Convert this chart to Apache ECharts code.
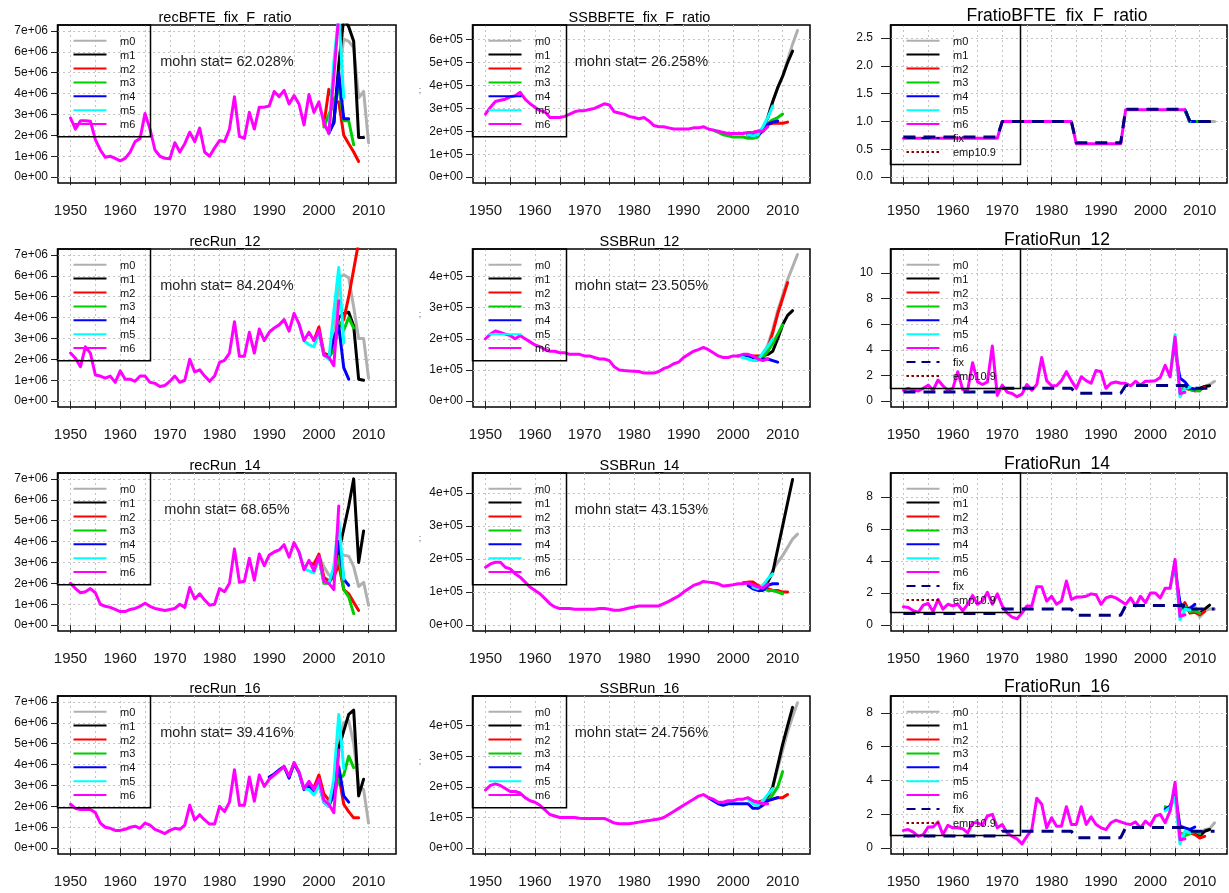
<!DOCTYPE html>
<html><head><meta charset="utf-8">
<script src="https://cdn.jsdelivr.net/npm/echarts@6/dist/echarts.min.js"></script>
<style>html,body{margin:0;padding:0;background:#fff}#c{width:1229px;height:893px}</style>
</head><body><div id="c"></div>
<script>
// ---------------- DATA ----------------
const xTicks  = [1950,1955,1960,1965,1970,1975,1980,1985,1990,1995,2000,2005,2010];
const xLabels = [1950,1960,1970,1980,1990,2000,2010];
const peelNames = ['m0','m1','m2','m3','m4','m5','m6'];

// recruitment values are in units of 1e6, SSB in units of 1e5
// --- recBFTE_fix_F_ratio (m6 from 1950)
const rec1_m6 = [2.83,2.3,2.7,2.7,2.68, 1.8,1.3,0.95,1.0,0.9, 0.78,0.9,1.2,1.7,1.85, 3.05,2.3,1.3,1.0,0.9, 0.88,1.65,1.2,1.6,2.15, 1.7,2.35,1.2,1.0,1.4, 1.75,1.7,2.3,3.85,1.95, 1.85,3.1,2.3,3.35,3.35, 3.4,4.1,3.85,4.15,3.5, 3.9,3.5,2.5,3.95,3.1, 3.6,2.6,2.1,4.8,7.8];
const rec1_start = [2002,2002,2001,2001,2002,2002];
const rec1_m0 = [2.2,2.6,5.0,6.6,6.5,6.2,3.8,4.1,1.65];
const rec1_m1 = [2.2,2.6,5.4,7.6,7.2,6.5,1.9,1.9];
const rec1_m2 = [2.5,4.2,3.6,3.6,2.0,1.6,1.2,0.75];
const rec1_m3 = [2.4,3.0,3.5,4.3,2.7,2.7,1.55];
const rec1_m4 = [2.1,2.6,5.0,2.8,2.8];
const rec1_m5 = [2.1,5.5,7.8,3.8];

// --- SSBBFTE_fix_F_ratio
const ssb1_m6 = [2.75,3.05,3.3,3.35,3.4, 3.5,3.55,3.7,3.4,3.2, 3.05,2.9,2.85,2.6,2.6, 2.6,2.65,2.75,2.85,2.9, 2.9,2.95,3.0,3.1,3.2, 3.15,2.85,2.8,2.75,2.65, 2.6,2.55,2.6,2.45,2.25, 2.2,2.2,2.15,2.1,2.1, 2.1,2.1,2.15,2.15,2.2, 2.1,2.05,2.0,1.95,1.9, 1.9,1.9,1.9,1.95,1.95, 2.0,2.0,2.2];
const ssb1_start = [2007,2003,2003,1996,2003,2003];
const ssb1_m0 = [2.6,3.3,3.9,4.4,5.1,5.8,6.4];
const ssb1_m1 = [1.85,1.8,1.8,2.1,2.6,3.3,3.9,4.4,5.0,5.5];
const ssb1_m2 = [1.95,1.95,2.0,2.1,2.3,2.35,2.35,2.35,2.4];
const ssb1_m3 = [2.05,1.95,1.85,1.8,1.75,1.75,1.75,1.7,1.7,1.75,2.1,2.35,2.5,2.6,2.75];
const ssb1_m4 = [1.85,1.8,1.85,2.0,2.3,2.4,2.45];
const ssb1_m5 = [1.85,1.8,1.85,2.2,2.6,3.1];

// --- FratioBFTE_fix_F_ratio
const f1_m6 = [0.7,0.7,0.7,0.7,0.7, 0.7,0.7,0.7,0.7,0.7, 0.7,0.7,0.7,0.7,0.7, 0.7,0.7,0.7,0.7,0.7, 1.0,1.0,1.0,1.0,1.0, 1.0,1.0,1.0,1.0,1.0, 1.0,1.0,1.0,1.0,1.0, 0.6,0.6,0.6,0.6,0.6, 0.6,0.6,0.6,0.6,0.6, 1.21,1.21,1.21,1.21,1.21, 1.21,1.21,1.21,1.21,1.21, 1.21,1.21,1.21];
const f1_start = [2007,2007,2007,2007,2007,2007];
const f1_m0 = [1.21,1.0,1.0,1.0,1.0,1.0,1.0];
const f1_m1 = [1.21,1.0,1.0,1.0,1.0,1.0];
const f1_m2 = [1.21,1.0,1.0,1.0,1.0];
const f1_m3 = [1.21,1.0,1.0,1.0];
const f1_m4 = [1.21,1.0,1.0];
const f1_m5 = [1.21,1.0];
// fixed F ratio (dashed navy), 1950-2013
const fixRatio = [0.72,0.72,0.72,0.72,0.72, 0.72,0.72,0.72,0.72,0.72, 0.72,0.72,0.72,0.72,0.72, 0.72,0.72,0.72,0.72,0.72, 1.0,1.0,1.0,1.0,1.0, 1.0,1.0,1.0,1.0,1.0, 1.0,1.0,1.0,1.0,1.0, 0.62,0.62,0.62,0.62,0.62, 0.62,0.62,0.62,0.62,0.62, 1.22,1.22,1.22,1.22,1.22, 1.22,1.22,1.22,1.22,1.22, 1.22,1.22,1.22, 1.0,1.0,1.0,1.0,1.0,1.0];

// --- recRun_12
const rec2_m6 = [2.3,2.05,1.65,2.6,2.3, 1.25,1.2,1.1,1.2,0.9, 1.45,1.05,1.05,0.95,1.2, 1.2,0.9,0.85,0.7,0.75, 0.95,1.2,0.9,1.0,2.0, 1.4,1.5,1.2,0.95,1.2, 1.85,1.95,2.3,3.8,2.15, 2.15,3.3,2.3,3.45,2.9, 3.3,3.5,3.65,3.9,3.35, 4.2,3.7,2.9,3.3,2.9, 3.4,2.2,2.1,1.7,4.8];
const rec2_start = [2002,2002,1999,2002,2002,1996];
const rec2_m0 = [2.2,2.8,5.9,6.05,5.9,4.5,3.0,3.0,1.1];
const rec2_m1 = [2.1,2.5,4.0,4.2,4.25,3.6,1.05,1.0];
const rec2_m2 = [2.9,3.55,2.3,2.2,2.5,3.6,3.9,5.0,6.3,7.6];
const rec2_m3 = [2.1,2.5,3.8,3.4,4.0,3.5];
const rec2_m4 = [2.1,3.0,3.6,1.6,1.05];
const rec2_m5 = [3.7,2.9,2.7,2.6,3.3,2.2,2.0,4.3,6.4,2.8];

// --- SSBRun_12
const ssb2_m6 = [2.0,2.15,2.25,2.2,2.15, 2.1,2.0,2.1,2.0,1.9, 1.8,1.75,1.65,1.6,1.6, 1.55,1.55,1.5,1.5,1.5, 1.45,1.45,1.4,1.35,1.35, 1.3,1.1,1.0,0.98,0.97, 0.96,0.95,0.9,0.9,0.9, 0.95,1.05,1.1,1.2,1.25, 1.4,1.5,1.6,1.65,1.72, 1.65,1.55,1.45,1.4,1.4, 1.45,1.45,1.5,1.5,1.45, 1.35,1.3,1.35];
const ssb2_start = [2005,2005,2004,2005,2001,2001];
const ssb2_m0 = [1.4,1.5,1.8,2.3,2.9,3.4,3.9,4.3,4.7];
const ssb2_m1 = [1.4,1.45,1.5,1.6,2.0,2.45,2.75,2.9];
const ssb2_m2 = [1.45,1.45,1.45,1.7,2.2,2.8,3.3,3.8];
const ssb2_m3 = [1.4,1.4,1.6,1.85,2.15,2.45];
const ssb2_m4 = [1.45,1.45,1.45,1.4,1.35,1.35,1.35,1.3,1.25];
const ssb2_m5 = [1.45,1.4,1.35,1.3,1.3,1.55,1.75,2.0];

// --- FratioRun_12
const f2_m6 = [0.85,1.0,0.85,0.8,1.0, 1.25,0.85,1.65,1.2,0.85, 1.0,2.3,0.9,0.85,3.0, 1.5,1.3,1.5,4.3,0.45, 1.25,0.7,0.6,0.35,0.55, 1.3,0.85,1.3,3.4,1.6, 1.2,1.2,1.6,2.3,1.6, 1.0,1.9,1.6,1.4,2.4, 2.3,1.0,1.4,1.5,1.4, 1.4,1.2,1.55,1.25,1.55, 1.55,1.6,1.85,2.8,1.9, 5.0,0.6,0.7];
const f2_start = [2009,2008,2007,2006,2005,2004];
const f2_m0 = [0.9,1.0,1.15,1.3,1.55];
const f2_m1 = [1.0,0.9,1.0,1.15,1.2];
const f2_m2 = [1.0,0.9,0.8,0.85,1.1];
const f2_m3 = [0.8,1.2,0.9,0.85,0.8];
const f2_m4 = [4.0,1.8,1.5,1.0,0.95];
const f2_m5 = [1.9,5.2,0.35,1.0,1.1];

// --- recRun_14
const rec3_m6 = [2.0,1.75,1.55,1.6,1.75, 1.55,1.0,0.9,0.85,0.75, 0.65,0.65,0.75,0.8,0.9, 1.05,0.9,0.8,0.75,0.7, 0.75,0.8,1.0,0.85,1.8, 1.25,1.5,1.2,0.95,1.0, 1.75,1.6,2.0,3.65,2.05, 2.1,3.2,2.15,3.4,2.85, 3.35,3.5,3.6,3.85,3.25, 3.95,3.5,2.65,3.1,2.6, 3.3,2.1,2.0,1.7,5.7];
const rec3_start = [1999,2002,1998,2000,2002,1996];
const rec3_m0 = [3.0,3.3,2.8,2.4,2.3,3.3,3.35,3.3,2.8,1.85,2.05,0.95];
const rec3_m1 = [2.1,2.5,3.5,4.6,5.7,7.0,3.0,4.5];
const rec3_m2 = [3.0,2.9,3.4,2.3,2.1,2.3,2.9,1.7,1.5,1.1,0.7];
const rec3_m3 = [3.2,2.0,2.0,2.5,3.3,1.7,1.35,0.55];
const rec3_m4 = [2.0,2.6,4.0,2.2,1.9];
const rec3_m5 = [3.5,2.7,2.6,2.5,3.2,2.1,2.0,2.8,5.0,2.2];

// --- SSBRun_14
const ssb3_m6 = [1.75,1.85,1.9,1.9,1.75, 1.7,1.55,1.45,1.3,1.15, 1.05,0.95,0.8,0.65,0.55, 0.5,0.5,0.5,0.48,0.48, 0.48,0.48,0.48,0.5,0.5, 0.48,0.45,0.45,0.48,0.52, 0.55,0.58,0.58,0.58,0.58, 0.58,0.65,0.72,0.8,0.88, 1.0,1.1,1.2,1.25,1.32, 1.3,1.28,1.25,1.18,1.2, 1.22,1.25,1.25,1.28,1.22, 1.15,1.12,1.25];
const ssb3_start = [2006,2005,2002,2004,2003,2004];
const ssb3_m0 = [1.2,1.35,1.65,1.9,2.1,2.35,2.6,2.75];
const ssb3_m1 = [1.15,1.15,1.3,1.6,2.3,3.0,3.7,4.4];
const ssb3_m2 = [1.28,1.3,1.3,1.2,1.15,1.1,1.05,1.05,1.0,1.0];
const ssb3_m3 = [1.2,1.15,1.1,1.05,1.05,1.0,0.95];
const ssb3_m4 = [1.2,1.1,1.05,1.05,1.2,1.25,1.25];
const ssb3_m5 = [1.15,1.1,1.2,1.4,1.55];

// --- FratioRun_14
const f3_m6 = [1.15,1.1,0.9,0.8,1.25, 1.35,0.85,1.6,1.0,1.3, 1.2,1.3,0.9,1.3,1.85, 1.3,1.5,2.05,1.3,1.95, 1.2,0.75,0.5,0.4,0.75, 1.2,1.2,2.4,2.4,1.5, 1.8,1.3,1.5,2.75,1.6, 1.75,1.75,1.8,1.95,1.9, 1.3,1.7,1.8,1.7,1.5, 1.3,1.7,1.2,1.8,1.4, 2.0,2.0,1.7,2.3,2.3, 4.1,0.55,0.65];
const f3_start = [2008,2008,2006,2006,2005,2004];
const f3_m0 = [1.1,1.2,0.5,0.9,1.0,1.0];
const f3_m1 = [1.0,0.85,0.7,1.0,1.25];
const f3_m2 = [1.0,1.4,0.75,0.8,0.65,0.85];
const f3_m3 = [0.9,1.2,0.85,0.9,0.75];
const f3_m4 = [3.5,1.4,1.0,1.05,1.3];
const f3_m5 = [2.3,4.0,0.35,1.0,0.95];

// --- recRun_16
const rec4_m6 = [2.1,1.9,1.85,1.85,1.85, 1.7,1.2,1.0,0.95,0.85, 0.85,0.9,1.0,1.05,0.95, 1.2,1.1,0.9,0.8,0.7, 0.85,0.95,0.9,1.1,2.05, 1.35,1.6,1.35,1.15,1.15, 2.0,1.75,2.2,3.75,2.05, 2.05,3.4,2.25,3.5,2.95, 3.3,3.5,3.7,3.9,3.45, 4.1,3.65,2.85,3.2,2.8, 3.3,2.3,2.1,1.7,4.7];
const rec4_start = [2002,2002,1998,2002,1990,1996];
const rec4_m0 = [2.2,2.8,5.2,6.0,6.1,5.0,3.0,2.8,1.2];
const rec4_m1 = [2.1,2.6,4.8,5.6,6.4,6.6,2.5,3.3];
const rec4_m2 = [3.1,2.9,3.5,2.6,2.3,2.7,3.5,2.1,1.75,1.45,1.45];
const rec4_m3 = [2.1,2.5,3.3,3.5,4.4,3.85];
const rec4_m4 = [3.4,3.55,3.75,3.9,3.35,4.05,3.6,2.8,3.0,2.7,3.1,2.2,2.0,2.6,3.9,2.5,2.2];
const rec4_m5 = [3.65,2.85,2.8,2.55,3.0,2.2,2.0,3.3,6.4,3.8];

// --- SSBRun_16
const ssb4_m6 = [1.9,2.05,2.1,2.05,1.95, 1.85,1.85,1.8,1.65,1.55, 1.5,1.4,1.25,1.1,1.05, 1.0,1.0,1.0,1.0,0.98, 0.97,0.97,0.97,0.97,0.97, 0.9,0.82,0.8,0.8,0.8, 0.82,0.85,0.88,0.9,0.93, 0.95,1.0,1.1,1.2,1.3, 1.4,1.5,1.6,1.7,1.75, 1.65,1.6,1.5,1.5,1.55, 1.55,1.6,1.6,1.65,1.55, 1.5,1.45,1.45];
const ssb4_start = [2006,2005,2004,2005,1995,2003];
const ssb4_m0 = [1.45,1.6,2.0,2.6,3.2,3.8,4.3,4.75];
const ssb4_m1 = [1.45,1.5,1.7,2.0,2.7,3.4,4.0,4.6];
const ssb4_m2 = [1.5,1.5,1.55,1.6,1.6,1.65,1.65,1.75];
const ssb4_m3 = [1.45,1.45,1.55,1.75,2.0,2.5];
const ssb4_m4 = [1.65,1.55,1.45,1.4,1.45,1.45,1.45,1.45,1.45,1.3,1.3,1.4,1.55,1.6,1.65];
const ssb4_m5 = [1.6,1.45,1.4,1.55,1.75,1.95];

// --- FratioRun_16
const f4_m6 = [1.05,1.1,0.95,0.7,0.8, 1.25,1.25,1.55,0.8,1.35, 1.2,1.2,1.15,0.9,1.5, 1.5,1.35,1.9,2.0,1.2, 1.4,0.9,0.7,0.55,0.25, 0.7,1.1,2.95,2.6,1.2, 1.8,1.3,1.3,2.45,1.4, 1.4,2.45,1.4,1.85,1.4, 1.2,1.1,1.5,1.65,1.55, 1.45,1.4,1.55,1.2,1.6, 1.35,1.9,2.0,1.5,2.2, 3.9,0.5,0.55];
const f4_start = [2008,2008,2006,2003,2003,2003];
const f4_m0 = [1.0,0.95,0.65,1.1,1.15,1.5];
const f4_m1 = [1.0,0.9,0.7,1.0,1.1];
const f4_m2 = [0.9,0.8,0.9,0.8,0.6,0.7];
const f4_m3 = [2.45,2.3,3.3,0.9,0.75,0.85,1.0,0.85];
const f4_m4 = [2.3,2.5,3.2,1.3,1.2,1.1,1.25];
const f4_m5 = [2.2,2.4,3.0,0.25,1.0,0.9];

// y-limits of each panel (as plotted, before 4% extension)
const ylimRec = [0, 7];
const ylimSSB = [[0,6.38],[0,4.69],[0,4.42],[0,4.78]];
const ylimF   = [[0,2.63],[0,11.42],[0,9.12],[0,8.65]];
const yTicksRec = [0,1,2,3,4,5,6,7];
const yTicksSSB = [[0,1,2,3,4,5,6],[0,1,2,3,4],[0,1,2,3,4],[0,1,2,3,4]];
const yTicksF   = [[0,0.5,1,1.5,2,2.5],[0,2,4,6,8,10],[0,2,4,6,8],[0,2,4,6,8]];

const titles = [
  ['recBFTE_fix_F_ratio','SSBBFTE_fix_F_ratio','FratioBFTE_fix_F_ratio'],
  ['recRun_12','SSBRun_12','FratioRun_12'],
  ['recRun_14','SSBRun_14','FratioRun_14'],
  ['recRun_16','SSBRun_16','FratioRun_16']
];
const mohnRec = ['mohn stat= 62.028%','mohn stat= 84.204%','mohn stat= 68.65%','mohn stat= 39.416%'];
const mohnSSB = ['mohn stat= 26.258%','mohn stat= 23.505%','mohn stat= 43.153%','mohn stat= 24.756%'];

const recSets = [
  {base:rec1_m6, start:rec1_start, peels:[rec1_m0,rec1_m1,rec1_m2,rec1_m3,rec1_m4,rec1_m5]},
  {base:rec2_m6, start:rec2_start, peels:[rec2_m0,rec2_m1,rec2_m2,rec2_m3,rec2_m4,rec2_m5]},
  {base:rec3_m6, start:rec3_start, peels:[rec3_m0,rec3_m1,rec3_m2,rec3_m3,rec3_m4,rec3_m5]},
  {base:rec4_m6, start:rec4_start, peels:[rec4_m0,rec4_m1,rec4_m2,rec4_m3,rec4_m4,rec4_m5]}
];
const ssbSets = [
  {base:ssb1_m6, start:ssb1_start, peels:[ssb1_m0,ssb1_m1,ssb1_m2,ssb1_m3,ssb1_m4,ssb1_m5]},
  {base:ssb2_m6, start:ssb2_start, peels:[ssb2_m0,ssb2_m1,ssb2_m2,ssb2_m3,ssb2_m4,ssb2_m5]},
  {base:ssb3_m6, start:ssb3_start, peels:[ssb3_m0,ssb3_m1,ssb3_m2,ssb3_m3,ssb3_m4,ssb3_m5]},
  {base:ssb4_m6, start:ssb4_start, peels:[ssb4_m0,ssb4_m1,ssb4_m2,ssb4_m3,ssb4_m4,ssb4_m5]}
];
const fSets = [
  {base:f1_m6, start:f1_start, peels:[f1_m0,f1_m1,f1_m2,f1_m3,f1_m4,f1_m5]},
  {base:f2_m6, start:f2_start, peels:[f2_m0,f2_m1,f2_m2,f2_m3,f2_m4,f2_m5]},
  {base:f3_m6, start:f3_start, peels:[f3_m0,f3_m1,f3_m2,f3_m3,f3_m4,f3_m5]},
  {base:f4_m6, start:f4_start, peels:[f4_m0,f4_m1,f4_m2,f4_m3,f4_m4,f4_m5]}
];

// ---------------- STYLE / LAYOUT ----------------
const FONT = '"Liberation Sans", Arial, Helvetica, sans-serif';
const PEEL_COLORS = ['#b0b0b0','#000000','#ff0000','#00cd00','#0000ff','#00ffff','#ff00ff'];
const FIX_COLOR = '#000080', EMP_COLOR = '#8b0000';
const COL_LEFT = [58, 473, 891], COL_W = [338, 337, 336];
const ROW_TOP = [25, 249, 473, 696], PANEL_H = 158;
const FIRST_YEAR = 1950;
const X_MIN = 1947.48, X_MAX = 2015.52;

function ext(lim){ const r = lim[1]-lim[0]; return [lim[0]-0.04*r, lim[1]+0.04*r]; }
function toPairs(vals, start){ return vals.map((v,i)=>[start+i, v]); }

const grids=[], xAxes=[], yAxes=[], series=[], graphics=[];

function addPanel(row, col, lim, ticks, fmt, set, withFix, mohn){
  const k = grids.length;
  const left = COL_LEFT[col], width = COL_W[col], top = ROW_TOP[row], height = PANEL_H;
  const isF = col === 2;
  grids.push({left, top, width, height, show:true, borderColor:'#000', borderWidth:1.5, backgroundColor:'transparent'});
  xAxes.push({gridIndex:k, type:'value', min:X_MIN, max:X_MAX,
    axisLine:{show:false},
    axisTick:{show:true, customValues:xTicks, length:8, inside:false, lineStyle:{color:'#222', width:1}},
    axisLabel:{customValues:xLabels, formatter:v => String(v), margin:20, fontSize:15, color:'#1a1a1a', fontFamily:FONT},
    splitLine:{show:true, lineStyle:{color:'#c4c4c4', type:[2,3], width:1}}});
  const yr = ext(lim);
  yAxes.push({gridIndex:k, type:'value', min:yr[0], max:yr[1],
    axisLine:{show:false},
    axisTick:{show:true, customValues:ticks, length:isF?10:7, inside:false, lineStyle:{color:'#222', width:1}},
    axisLabel:{customValues:ticks, formatter:fmt, margin:isF?18:10, fontSize:12, color:'#111', fontFamily:FONT},
    splitLine:{show:true, lineStyle:{color:'#c4c4c4', type:[2,3], width:1}}});
  // peels m0..m5 then m6 (base) on top
  set.peels.forEach((vals,i)=>{
    series.push({type:'line', name:peelNames[i], xAxisIndex:k, yAxisIndex:k, data:toPairs(vals, set.start[i]),
      showSymbol:false, symbol:'none', silent:true, clip:true,
      lineStyle:{color:PEEL_COLORS[i], width:3, cap:'round', join:'round'}});
  });
  series.push({type:'line', name:'m6', xAxisIndex:k, yAxisIndex:k, data:toPairs(set.base, FIRST_YEAR),
    showSymbol:false, symbol:'none', silent:true, clip:true,
    lineStyle:{color:PEEL_COLORS[6], width:3, cap:'round', join:'round'}});
  if (withFix){
    series.push({type:'line', name:'fix', xAxisIndex:k, yAxisIndex:k, data:toPairs(fixRatio, FIRST_YEAR),
      showSymbol:false, symbol:'none', silent:true, clip:true,
      lineStyle:{color:FIX_COLOR, width:3, type:[12,8]}});
  }
  // title
  graphics.push({type:'text', z:100, silent:true, style:{text:titles[row][col], x:left+width/2-2, y:isF?top-9:top-7,
    textAlign:'center', textVerticalAlign:'middle', verticalAlign:'middle', fill:'#000',
    font:(isF?'17.5px ':'14.5px ')+FONT}});
  // mohn stat
  if (mohn){
    const mx = left + width*(1981.5-X_MIN)/(X_MAX-X_MIN);
    graphics.push({type:'text', z:100, silent:true, style:{text:mohn, x:mx, y:top+37, textAlign:'center',
      textVerticalAlign:'middle', verticalAlign:'middle', fill:'#1e1e1e', font:'14.5px '+FONT}});
  }
  // legend box
  const items = peelNames.map((n,i)=>({name:n, color:PEEL_COLORS[i], dash:null}));
  if (isF){ items.push({name:'fix', color:FIX_COLOR, dash:[9,6]}); items.push({name:'emp10.9', color:EMP_COLOR, dash:[2.5,2.5]}); }
  const bw = isF ? 130 : (col===0 ? 93 : 94);
  const bh = items.length*13.9 + 14.5;
  graphics.push({type:'rect', z:100, silent:true, shape:{x:left-0.5, y:top, width:bw, height:bh},
    style:{fill:'none', stroke:'#000', lineWidth:1.5}});
  items.forEach((it,i)=>{
    const y = top + 15.7 + i*13.9;
    graphics.push({type:'line', z:100, silent:true, shape:{x1:left+15.5, y1:y, x2:left+48.5, y2:y},
      style:{stroke:it.color, lineWidth:2, lineDash:it.dash}});
    graphics.push({type:'text', z:100, silent:true, style:{text:it.name, x:left+62, y:y+1, textAlign:'left',
      textVerticalAlign:'middle', verticalAlign:'middle', fill:'#111', font:'11px '+FONT}});
  });
  // small stray y-label marks in the SSB column
  if (col === 1){
    graphics.push({type:'text', z:100, silent:true, style:{text:';', x:420, y:top+66, textAlign:'center',
      textVerticalAlign:'middle', verticalAlign:'middle', fill:'#4a6fa0', font:'9px '+FONT}});
  }
}

const fmtRec = v => v === 0 ? '0e+00' : v + 'e+06';
const fmtSSB = v => v === 0 ? '0e+00' : v + 'e+05';
const fmtF1 = v => v.toFixed(1);
const fmtF = v => String(v);

for (let r=0; r<4; r++){
  addPanel(r, 0, ylimRec, yTicksRec, fmtRec, recSets[r], false, mohnRec[r]);
  addPanel(r, 1, ylimSSB[r], yTicksSSB[r], fmtSSB, ssbSets[r], false, mohnSSB[r]);
  addPanel(r, 2, ylimF[r], yTicksF[r], r===0?fmtF1:fmtF, fSets[r], true, null);
}

const chart = echarts.init(document.getElementById('c'), null, {renderer:'canvas', width:1229, height:893});
chart.setOption({
  animation:false,
  backgroundColor:'#ffffff',
  textStyle:{fontFamily:FONT},
  grid:grids, xAxis:xAxes, yAxis:yAxes, series:series,
  graphic:{elements:graphics}
});
</script>
</body></html>
